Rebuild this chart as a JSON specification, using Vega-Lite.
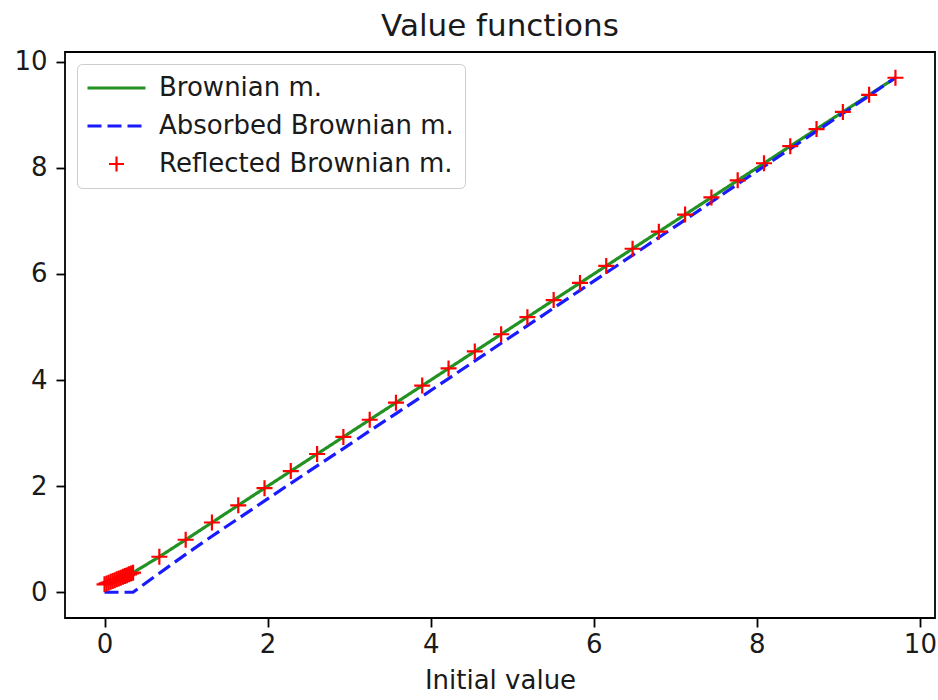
{
  "$schema": "https://vega.github.io/schema/vega-lite/v6.json",
  "autosize": "none",
  "width": 870,
  "height": 566,
  "padding": {"left": 65, "top": 52, "right": 3, "bottom": 82},
  "background": "white",
  "config": {
    "font": "DejaVu Sans",
    "view": {"stroke": "#000", "strokeWidth": 1.8},
    "axis": {
      "domain": false, "grid": false,
      "labelFont": "DejaVu Sans", "labelFontSize": 26, "labelColor": "#1a1a1a",
      "tickColor": "#000", "tickSize": 9, "tickWidth": 1.8,
      "titleFont": "DejaVu Sans", "titleFontSize": 26, "titleFontWeight": "normal", "titleColor": "#1a1a1a"
    },
    "title": {"font": "DejaVu Sans", "fontSize": 31, "fontWeight": "normal", "color": "#1a1a1a", "offset": 6}
  },
  "title": "Value functions",
  "datasets": {
    "vals": [
      {"x": 0.0, "y": 0.15, "series": "Brownian m."},
      {"x": 0.025, "y": 0.166, "series": "Brownian m."},
      {"x": 0.05, "y": 0.181, "series": "Brownian m."},
      {"x": 0.075, "y": 0.197, "series": "Brownian m."},
      {"x": 0.1, "y": 0.213, "series": "Brownian m."},
      {"x": 0.125, "y": 0.229, "series": "Brownian m."},
      {"x": 0.15, "y": 0.244, "series": "Brownian m."},
      {"x": 0.175, "y": 0.26, "series": "Brownian m."},
      {"x": 0.2, "y": 0.276, "series": "Brownian m."},
      {"x": 0.225, "y": 0.291, "series": "Brownian m."},
      {"x": 0.25, "y": 0.307, "series": "Brownian m."},
      {"x": 0.275, "y": 0.323, "series": "Brownian m."},
      {"x": 0.3, "y": 0.339, "series": "Brownian m."},
      {"x": 0.325, "y": 0.354, "series": "Brownian m."},
      {"x": 0.35, "y": 0.37, "series": "Brownian m."},
      {"x": 0.672, "y": 0.67, "series": "Brownian m."},
      {"x": 0.995, "y": 0.99, "series": "Brownian m."},
      {"x": 1.317, "y": 1.315, "series": "Brownian m."},
      {"x": 1.64, "y": 1.64, "series": "Brownian m."},
      {"x": 1.962, "y": 1.962, "series": "Brownian m."},
      {"x": 2.284, "y": 2.284, "series": "Brownian m."},
      {"x": 2.607, "y": 2.607, "series": "Brownian m."},
      {"x": 2.929, "y": 2.929, "series": "Brownian m."},
      {"x": 3.252, "y": 3.252, "series": "Brownian m."},
      {"x": 3.574, "y": 3.574, "series": "Brownian m."},
      {"x": 3.896, "y": 3.896, "series": "Brownian m."},
      {"x": 4.219, "y": 4.219, "series": "Brownian m."},
      {"x": 4.541, "y": 4.541, "series": "Brownian m."},
      {"x": 4.864, "y": 4.864, "series": "Brownian m."},
      {"x": 5.186, "y": 5.186, "series": "Brownian m."},
      {"x": 5.508, "y": 5.508, "series": "Brownian m."},
      {"x": 5.831, "y": 5.831, "series": "Brownian m."},
      {"x": 6.153, "y": 6.153, "series": "Brownian m."},
      {"x": 6.476, "y": 6.476, "series": "Brownian m."},
      {"x": 6.798, "y": 6.798, "series": "Brownian m."},
      {"x": 7.12, "y": 7.12, "series": "Brownian m."},
      {"x": 7.443, "y": 7.443, "series": "Brownian m."},
      {"x": 7.765, "y": 7.765, "series": "Brownian m."},
      {"x": 8.088, "y": 8.088, "series": "Brownian m."},
      {"x": 8.41, "y": 8.41, "series": "Brownian m."},
      {"x": 8.732, "y": 8.732, "series": "Brownian m."},
      {"x": 9.055, "y": 9.055, "series": "Brownian m."},
      {"x": 9.377, "y": 9.377, "series": "Brownian m."},
      {"x": 9.7, "y": 9.7, "series": "Brownian m."},

      {"x": 0.0, "y": 0.0, "series": "Absorbed Brownian m."},
      {"x": 0.05, "y": 0.0, "series": "Absorbed Brownian m."},
      {"x": 0.1, "y": 0.0, "series": "Absorbed Brownian m."},
      {"x": 0.15, "y": 0.0, "series": "Absorbed Brownian m."},
      {"x": 0.2, "y": 0.0, "series": "Absorbed Brownian m."},
      {"x": 0.25, "y": 0.0, "series": "Absorbed Brownian m."},
      {"x": 0.3, "y": 0.0, "series": "Absorbed Brownian m."},
      {"x": 0.35, "y": 0.0, "series": "Absorbed Brownian m."},
      {"x": 0.672, "y": 0.36, "series": "Absorbed Brownian m."},
      {"x": 0.995, "y": 0.715, "series": "Absorbed Brownian m."},
      {"x": 1.317, "y": 1.057, "series": "Absorbed Brownian m."},
      {"x": 1.64, "y": 1.39, "series": "Absorbed Brownian m."},
      {"x": 1.962, "y": 1.722, "series": "Absorbed Brownian m."},
      {"x": 2.284, "y": 2.054, "series": "Absorbed Brownian m."},
      {"x": 2.607, "y": 2.382, "series": "Absorbed Brownian m."},
      {"x": 2.929, "y": 2.709, "series": "Absorbed Brownian m."},
      {"x": 3.252, "y": 3.042, "series": "Absorbed Brownian m."},
      {"x": 3.574, "y": 3.369, "series": "Absorbed Brownian m."},
      {"x": 3.896, "y": 3.696, "series": "Absorbed Brownian m."},
      {"x": 4.219, "y": 4.029, "series": "Absorbed Brownian m."},
      {"x": 4.541, "y": 4.361, "series": "Absorbed Brownian m."},
      {"x": 4.864, "y": 4.694, "series": "Absorbed Brownian m."},
      {"x": 5.186, "y": 5.026, "series": "Absorbed Brownian m."},
      {"x": 5.508, "y": 5.358, "series": "Absorbed Brownian m."},
      {"x": 5.831, "y": 5.691, "series": "Absorbed Brownian m."},
      {"x": 6.153, "y": 6.023, "series": "Absorbed Brownian m."},
      {"x": 6.476, "y": 6.356, "series": "Absorbed Brownian m."},
      {"x": 6.798, "y": 6.688, "series": "Absorbed Brownian m."},
      {"x": 7.12, "y": 7.02, "series": "Absorbed Brownian m."},
      {"x": 7.443, "y": 7.358, "series": "Absorbed Brownian m."},
      {"x": 7.765, "y": 7.695, "series": "Absorbed Brownian m."},
      {"x": 8.088, "y": 8.028, "series": "Absorbed Brownian m."},
      {"x": 8.41, "y": 8.36, "series": "Absorbed Brownian m."},
      {"x": 8.732, "y": 8.692, "series": "Absorbed Brownian m."},
      {"x": 9.055, "y": 9.025, "series": "Absorbed Brownian m."},
      {"x": 9.377, "y": 9.362, "series": "Absorbed Brownian m."},
      {"x": 9.7, "y": 9.7, "series": "Absorbed Brownian m."},

      {"x": 0.0, "y": 0.15, "series": "Reflected Brownian m."},
      {"x": 0.025, "y": 0.166, "series": "Reflected Brownian m."},
      {"x": 0.05, "y": 0.181, "series": "Reflected Brownian m."},
      {"x": 0.075, "y": 0.197, "series": "Reflected Brownian m."},
      {"x": 0.1, "y": 0.213, "series": "Reflected Brownian m."},
      {"x": 0.125, "y": 0.229, "series": "Reflected Brownian m."},
      {"x": 0.15, "y": 0.244, "series": "Reflected Brownian m."},
      {"x": 0.175, "y": 0.26, "series": "Reflected Brownian m."},
      {"x": 0.2, "y": 0.276, "series": "Reflected Brownian m."},
      {"x": 0.225, "y": 0.291, "series": "Reflected Brownian m."},
      {"x": 0.25, "y": 0.307, "series": "Reflected Brownian m."},
      {"x": 0.275, "y": 0.323, "series": "Reflected Brownian m."},
      {"x": 0.3, "y": 0.339, "series": "Reflected Brownian m."},
      {"x": 0.325, "y": 0.354, "series": "Reflected Brownian m."},
      {"x": 0.35, "y": 0.37, "series": "Reflected Brownian m."},
      {"x": 0.672, "y": 0.67, "series": "Reflected Brownian m."},
      {"x": 0.995, "y": 0.99, "series": "Reflected Brownian m."},
      {"x": 1.317, "y": 1.315, "series": "Reflected Brownian m."},
      {"x": 1.64, "y": 1.64, "series": "Reflected Brownian m."},
      {"x": 1.962, "y": 1.962, "series": "Reflected Brownian m."},
      {"x": 2.284, "y": 2.284, "series": "Reflected Brownian m."},
      {"x": 2.607, "y": 2.607, "series": "Reflected Brownian m."},
      {"x": 2.929, "y": 2.929, "series": "Reflected Brownian m."},
      {"x": 3.252, "y": 3.252, "series": "Reflected Brownian m."},
      {"x": 3.574, "y": 3.574, "series": "Reflected Brownian m."},
      {"x": 3.896, "y": 3.896, "series": "Reflected Brownian m."},
      {"x": 4.219, "y": 4.219, "series": "Reflected Brownian m."},
      {"x": 4.541, "y": 4.541, "series": "Reflected Brownian m."},
      {"x": 4.864, "y": 4.864, "series": "Reflected Brownian m."},
      {"x": 5.186, "y": 5.186, "series": "Reflected Brownian m."},
      {"x": 5.508, "y": 5.508, "series": "Reflected Brownian m."},
      {"x": 5.831, "y": 5.831, "series": "Reflected Brownian m."},
      {"x": 6.153, "y": 6.153, "series": "Reflected Brownian m."},
      {"x": 6.476, "y": 6.476, "series": "Reflected Brownian m."},
      {"x": 6.798, "y": 6.798, "series": "Reflected Brownian m."},
      {"x": 7.12, "y": 7.12, "series": "Reflected Brownian m."},
      {"x": 7.443, "y": 7.443, "series": "Reflected Brownian m."},
      {"x": 7.765, "y": 7.765, "series": "Reflected Brownian m."},
      {"x": 8.088, "y": 8.088, "series": "Reflected Brownian m."},
      {"x": 8.41, "y": 8.41, "series": "Reflected Brownian m."},
      {"x": 8.732, "y": 8.732, "series": "Reflected Brownian m."},
      {"x": 9.055, "y": 9.055, "series": "Reflected Brownian m."},
      {"x": 9.377, "y": 9.377, "series": "Reflected Brownian m."},
      {"x": 9.7, "y": 9.7, "series": "Reflected Brownian m."}
    ]
  },
  "data": {"name": "vals"},
  "encoding": {
    "x": {"field": "x", "type": "quantitative", "title": "Initial value",
          "scale": {"domain": [-0.485, 10.185], "nice": false, "zero": false},
          "axis": {"values": [0, 2, 4, 6, 8, 10], "labelPadding": 4, "titlePadding": 10}},
    "y": {"field": "y", "type": "quantitative", "title": null,
          "scale": {"domain": [-0.485, 10.185], "nice": false, "zero": false},
          "axis": {"values": [0, 2, 4, 6, 8, 10], "labelPadding": 9}},
    "color": {"field": "series", "type": "nominal",
      "scale": {"domain": ["Brownian m.", "Absorbed Brownian m.", "Reflected Brownian m."],
                "range": ["#239223", "#1a1aff", "#ff0000"]},
      "legend": {"title": null, "orient": "top-left", "offset": 12,
                 "labelFont": "DejaVu Sans", "labelFontSize": 26, "labelColor": "#1a1a1a", "labelLimit": 600,
                 "labelOffset": 45, "rowPadding": 12, "padding": 11, "symbolSize": 225,
                 "fillColor": "white", "strokeColor": "#cccccc", "cornerRadius": 5,
                 "encode": {
                   "symbols": {"update": {
                     "shape": {"signal": "datum.value === 'Reflected Brownian m.' ? 'M1.067,0H3.067M2.067,-1V1' : 'M-1.8,0H5.933'"},
                     "strokeDash": {"signal": "datum.value === 'Absorbed Brownian m.' ? [14, 6] : [1, 0]"},
                     "strokeWidth": {"signal": "datum.value === 'Reflected Brownian m.' ? 2.2 : 3.2"},
                     "fill": {"value": "transparent"},
                     "size": {"value": 225}
                   }}
                 }}}
  },
  "layer": [
    {
      "transform": [{"filter": "datum.series !== 'Reflected Brownian m.'"}],
      "mark": {"type": "line", "strokeWidth": 3.2},
      "encoding": {
        "strokeDash": {"field": "series", "type": "nominal",
          "scale": {"domain": ["Brownian m.", "Absorbed Brownian m.", "Reflected Brownian m."],
                    "range": [[1, 0], [14, 6], [1, 0]]},
          "legend": null}
      }
    },
    {
      "transform": [{"filter": "datum.series === 'Reflected Brownian m.'"}],
      "mark": {"type": "point", "filled": false, "strokeWidth": 2.2, "opacity": 1, "size": 256, "shape": "M-1,0H1M0,-1V1"}
    }
  ]
}
